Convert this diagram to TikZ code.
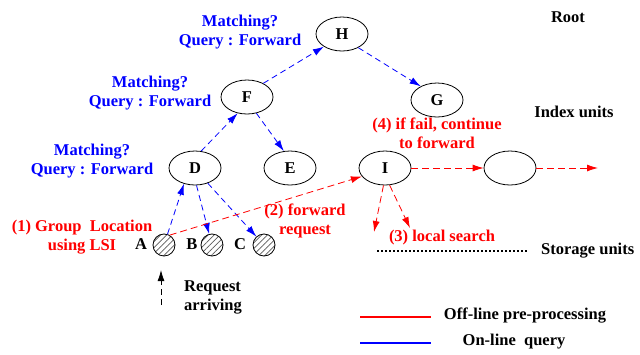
\documentclass[tikz,border=0pt]{standalone}
\usepackage{fontspec}
\setmainfont{Liberation Serif}
\usetikzlibrary{arrows.meta,patterns.meta,shapes.geometric}
\begin{document}
\begin{tikzpicture}[x=1pt,y=-1pt,
 every node/.style={font=\fontsize{16.5}{19}\selectfont\bfseries},
 unit/.style={draw,ellipse,minimum width=52pt,minimum height=34pt,inner sep=0pt,line width=0.8pt},
 store/.style={draw,circle,minimum size=22pt,inner sep=0pt,pattern={Lines[angle=45,distance=4.2pt,line width=0.7pt]},pattern color=black!65,line width=0.8pt},
 tip/.style={-{Latex[length=11pt,width=7pt]}},
 blu/.style={blue,dash pattern=on 6pt off 4pt,line width=0.8pt,tip},
 rd/.style={red,dash pattern=on 7pt off 4pt,line width=0.8pt,tip},
 bl/.style={text=blue,align=center},
 rt/.style={text=red,align=center},
 lbl/.style={align=center}]
\useasboundingbox (0,0) rectangle (640,354);
% index units
\node[unit] (H) at (342,34) {H};
\node[unit] (F) at (247,97) {F};
\node[unit] (G) at (437,100) {G};
\node[unit] (D) at (195,168) {D};
\node[unit] (E) at (290,168) {E};
\node[unit] (I) at (385,168) {I};
\node[unit] (J) at (510,168) {};
% storage units
\node[store] (A) at (164,245) {};
\node[store] (B) at (212,245) {};
\node[store] (C) at (264,245) {};
\node (Al) at (141,244) {A};
\node (Bl) at (192,244) {B};
\node (Cl) at (240,244) {C};
% blue query path
\draw[blu] (A) -- (D.235);
\draw[blu] (D.275) -- (B);
\draw[blu] (D.310) -- (C);
\draw[blu] (D.70) -- (F.240);
\draw[blu] (F.300) -- (E.110);
\draw[blu] (F.40) -- (H.215);
\draw[blu] (H.320) -- (G.140);
% red path
\draw[rd] (A.60) -- (I.200);
\draw[rd] (I) -- (J);
\coordinate (out) at (598,168);
\draw[rd] (J) -- (out);
\coordinate (s1) at (374,232);
\coordinate (s2) at (410,228);
\draw[rd] (I.265) -- (s1);
\draw[rd] (I.285) -- (s2);
% request arriving
\coordinate (r0) at (161,305);
\coordinate (r1) at (161,270);
\draw[black,dash pattern=on 6pt off 4pt,line width=0.8pt,tip] (r0) -- (r1);
\node[lbl,align=left] (req) at (213,297) {Request\\arriving};
% storage line
\coordinate (d0) at (377,251);
\coordinate (d1) at (527,251);
\draw[line width=1.6pt,dash pattern=on 1.6pt off 2.4pt] (d0) -- (d1);
\node[anchor=west,inner sep=0pt] (su) at (541,251) {Storage units};
\node (root) at (568,17) {Root};
\node (iu) at (574,112) {Index units};
% labels
\node[bl] (m1) at (240,32) {Matching?\\Query : Forward};
\node[bl] (m2) at (150,93) {Matching?\\Query : Forward};
\node[bl] (m3) at (92,161) {Matching?\\Query : Forward};
\node[rt] (l1) at (82,237) {(1) Group\ \ Location\\using LSI};
\node[rt] (l2) at (305,221) {(2) forward\\request};
\node[rt] (l3) at (442,238) {(3) local search};
\node[rt] (l4) at (437,133) {(4) if fail, continue\\to forward};
% legend
\coordinate (k0) at (360,317);
\coordinate (k1) at (431,317);
\coordinate (k2) at (360,343);
\coordinate (k3) at (431,343);
\draw[red,line width=1.6pt] (k0) -- (k1);
\draw[blue,line width=1.6pt] (k2) -- (k3);
\node (off) at (525,316) {Off-line pre-processing};
\node (on) at (514,342) {On-line\ \ query};
\end{tikzpicture}
\end{document}
